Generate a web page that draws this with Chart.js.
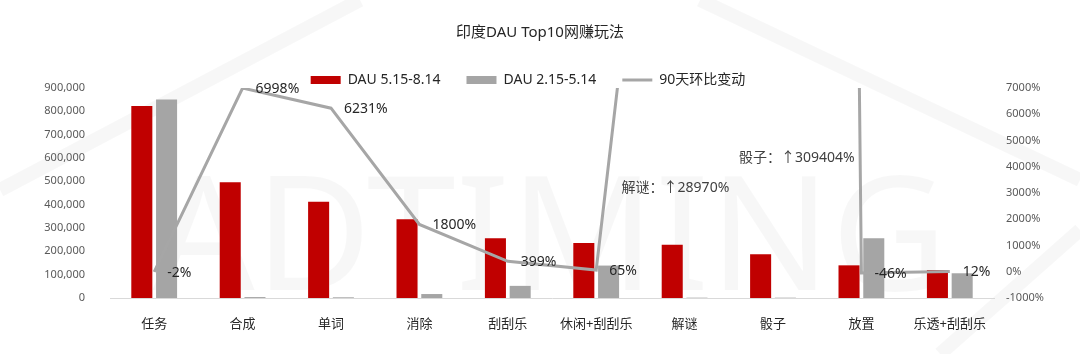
<!DOCTYPE html>
<html>
<head>
<meta charset="utf-8">
<script src="https://cdn.jsdelivr.net/npm/chart.js@4"></script>
<style>
  html, body { margin: 0; padding: 0; background: #fff; }
  #wrap { width: 1080px; height: 354px; }
</style>
</head>
<body>
<div id="wrap"><canvas id="grafico"></canvas></div>
<script>
// dados
var categorias = ['任务', '合成', '单词', '消除', '刮刮乐', '休闲+刮刮乐', '解谜', '骰子', '放置', '乐透+刮刮乐'];
var dauAtual = [823000, 496000, 413000, 338000, 256000, 236000, 228000, 188000, 140000, 120000];
var dauAnterior = [851000, 4000, 3000, 17000, 52000, 139000, 1500, 1500, 256000, 106000];
var variacao = [-2, 6998, 6231, 1800, 399, 65, 28970, 309404, -46, 12];
var notas = ['解谜：↑28970%', '骰子：↑309404%'];
var notasIndice = [6, 7];
var notasValor = [3190, 4330];

var fonte = '"Noto Sans", "Noto Sans CJK SC", sans-serif';

var marcaAgua = {
    id: 'marcaAgua',
    beforeDraw: function (chart) {
        var ctx = chart.ctx;
        ctx.save();
        ctx.strokeStyle = 'rgba(0,0,0,0.03)';
        ctx.lineWidth = 14;
        ctx.beginPath();
        ctx.moveTo(0, 190); ctx.lineTo(360, 0);
        ctx.moveTo(700, 0); ctx.lineTo(1080, 180);
        ctx.moveTo(1080, 230); ctx.lineTo(940, 354);
        ctx.stroke();
        ctx.fillStyle = 'rgba(0,0,0,0.03)';
        ctx.font = '160px ' + fonte;
        ctx.textAlign = 'center';
        ctx.textBaseline = 'alphabetic';
        ctx.fillText('ADTIMING', 550, 290);
        ctx.restore();
    }
};

// legenda um pouco mais abaixo e à esquerda, sobre o topo da área do gráfico
var ajusteLegenda = {
    id: 'ajusteLegenda',
    afterLayout: function (chart) {
        chart.legend.top += 9;
        chart.legend.bottom += 9;
        chart.legend.left -= 12;
        chart.legend.right -= 12;
    }
};

var rotulos = {
    id: 'rotulos',
    afterDatasetsDraw: function (chart) {
        var ctx = chart.ctx;
        var meta = chart.getDatasetMeta(2);
        var x = chart.scales.x, y1 = chart.scales.y1;
        ctx.save();
        ctx.font = '14px ' + fonte;
        ctx.fillStyle = '#262626';
        ctx.textAlign = 'left';
        ctx.textBaseline = 'middle';
        meta.data.forEach(function (p, i) {
            if (variacao[i] > y1.max) return;
            ctx.fillText(variacao[i] + '%', p.x + 13, p.y + 1);
        });
        ctx.fillStyle = '#404040';
        notas.forEach(function (t, k) {
            var px = x.getPixelForValue(notasIndice[k]);
            ctx.fillText(t, px + (k === 0 ? -63 : -34), y1.getPixelForValue(notasValor[k]));
        });
        ctx.restore();
    }
};

var ctx = document.getElementById('grafico').getContext('2d');
new Chart(ctx, {
    type: 'bar',
    data: {
        labels: categorias,
        datasets: [{
            label: 'DAU 5.15-8.14',
            data: dauAtual,
            backgroundColor: '#C00000',
            pointStyle: 'rect',
            yAxisID: 'y',
            order: 1
        }, {
            label: 'DAU 2.15-5.14',
            data: dauAnterior,
            backgroundColor: '#A5A5A5',
            pointStyle: 'rect',
            yAxisID: 'y',
            order: 1
        }, {
            type: 'line',
            label: '90天环比变动',
            data: variacao,
            borderColor: '#A6A6A6',
            backgroundColor: '#A6A6A6',
            borderWidth: 3,
            pointRadius: 0,
            pointStyle: 'line',
            tension: 0,
            yAxisID: 'y1',
            order: 0
        }]
    },
    options: {
        responsive: true,
        maintainAspectRatio: false,
        animation: false,
        datasets: {
            bar: { categoryPercentage: 0.56, barPercentage: 0.85 }
        },
        layout: { padding: { top: 0, left: 0, right: 0, bottom: 0 } },
        plugins: {
            title: {
                display: true,
                text: '印度DAU Top10网赚玩法',
                color: '#262626',
                font: { family: fonte, size: 15, weight: 'normal' },
                padding: { top: 24, bottom: -4 }
            },
            legend: {
                position: 'top',
                labels: {
                    usePointStyle: true,
                    pointStyleWidth: 30,
                    boxHeight: 8,
                    padding: 26,
                    color: '#262626',
                    font: { family: fonte, size: 14 },
                    sort: function (a, b) { return a.datasetIndex - b.datasetIndex; }
                }
            },
            tooltip: { enabled: false }
        },
        scales: {
            x: {
                grid: { display: false },
                border: { display: true, color: '#D9D9D9', width: 1 },
                ticks: { color: '#262626', font: { family: fonte, size: 13 }, padding: 10, maxRotation: 0 },
                afterFit: function (s) { s.height = 56; }
            },
            y: {
                position: 'left',
                min: 0,
                max: 900000,
                grid: { display: false },
                border: { display: false },
                ticks: {
                    stepSize: 100000,
                    color: '#595959',
                    font: { family: fonte, size: 11 },
                    padding: 17,
                    callback: function (v) { return v.toLocaleString('en-US'); }
                },
                afterFit: function (s) { s.width = 110; }
            },
            y1: {
                position: 'right',
                min: -1000,
                max: 7000,
                grid: { display: false },
                border: { display: false },
                ticks: {
                    stepSize: 1000,
                    color: '#595959',
                    font: { family: fonte, size: 11 },
                    padding: 4,
                    callback: function (v) { return v + '%'; }
                },
                afterFit: function (s) { s.width = 86; }
            }
        }
    },
    plugins: [marcaAgua, ajusteLegenda, rotulos]
});
</script>
</body>
</html>
